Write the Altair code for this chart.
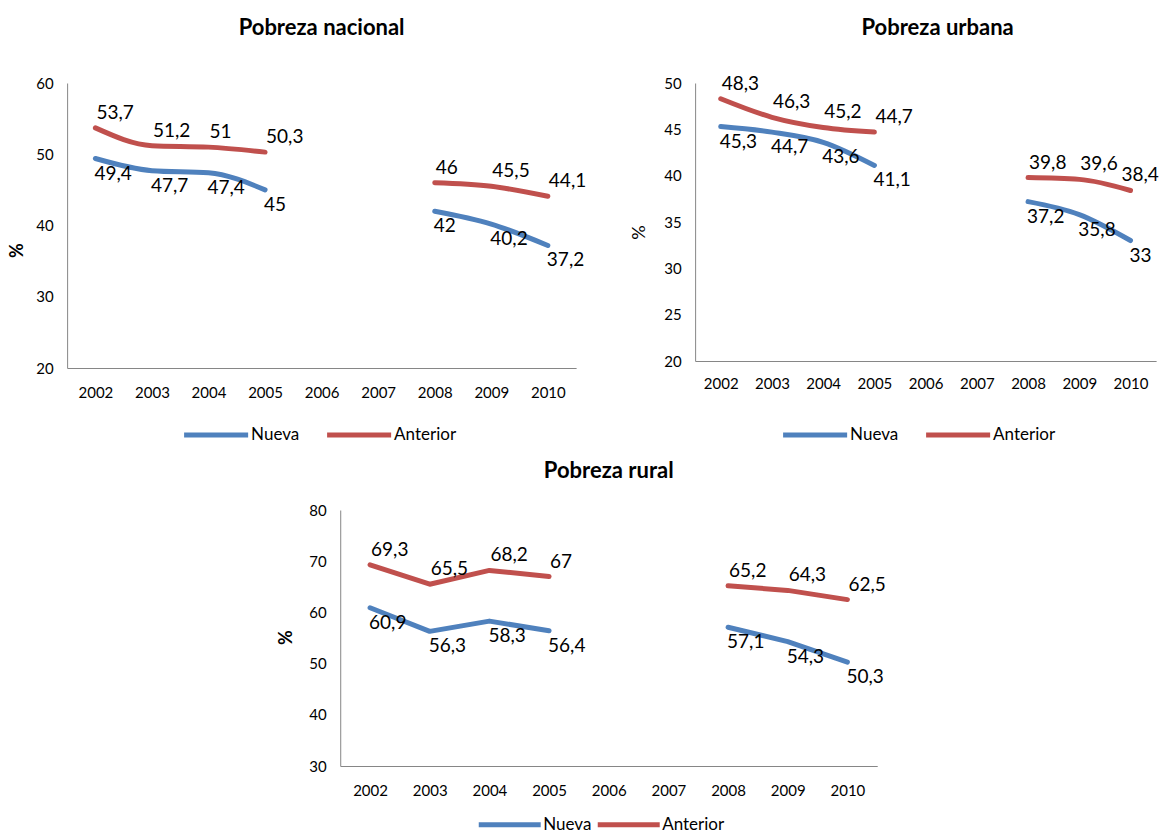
import altair as alt
import pandas as pd

# Years on the category axis (2006 and 2007 have no survey data)
anios = ["2002", "2003", "2004", "2005", "2006", "2007", "2008", "2009", "2010"]
series = ["Nueva", "Anterior"]
colores = ["#4F81BD", "#C0504D"]

# Poverty rates (%) by methodology
nacional_nueva = [49.4, 47.7, 47.4, 45, None, None, 42, 40.2, 37.2]
nacional_anterior = [53.7, 51.2, 51, 50.3, None, None, 46, 45.5, 44.1]
urbana_nueva = [45.3, 44.7, 43.6, 41.1, None, None, 37.2, 35.8, 33]
urbana_anterior = [48.3, 46.3, 45.2, 44.7, None, None, 39.8, 39.6, 38.4]
rural_nueva = [60.9, 56.3, 58.3, 56.4, None, None, 57.1, 54.3, 50.3]
rural_anterior = [69.3, 65.5, 68.2, 67, None, None, 65.2, 64.3, 62.5]

F_TICK = 15
F_DATO = 19
F_LEYENDA = 17
F_TITULO = 22


def tabla(nueva, anterior):
    """Long table; missing years split each series into separate segments."""
    filas = []
    for serie, valores in (("Nueva", nueva), ("Anterior", anterior)):
        tramo = 0
        for anio, v in zip(anios, valores):
            if v is None:
                tramo += 1
                continue
            filas.append({
                "anio": anio,
                "serie": serie,
                "valor": v,
                "tramo": f"{serie}-{tramo}",
                "etiqueta": f"{v:g}".replace(".", ","),
            })
    return pd.DataFrame(filas)


def panel(titulo, df, ymin, ymax, paso, ancho, alto, interp, ytitulo_negrita,
          ytx, yty, xpad, lx, ly, simbolo, colpad, toff, tdx, dx_final=1):
    x = alt.X(
        "anio:O",
        scale=alt.Scale(domain=anios, padding=0.5),
        axis=alt.Axis(title=None, labelAngle=0, ticks=False, domainColor="#868686",
                      labelPadding=xpad, labelFontSize=F_TICK, labelColor="black"),
    )
    y = alt.Y(
        "valor:Q",
        scale=alt.Scale(domain=[ymin, ymax], nice=False, zero=False),
        axis=alt.Axis(values=list(range(ymin, ymax + 1, paso)), grid=False, ticks=False,
                      domainColor="#868686", labelPadding=14, labelFontSize=F_TICK,
                      labelColor="black", title="%", titleFontSize=18,
                      titleFontWeight="bold" if ytitulo_negrita else "normal",
                      titleColor="black", titleX=ytx, titleY=yty,
                      titleAlign="center", titleBaseline="middle"),
    )
    color = alt.Color(
        "serie:N",
        scale=alt.Scale(domain=series, range=colores),
        legend=alt.Legend(title=None, orient="none", legendX=lx, legendY=ly,
                          direction="horizontal", symbolType="stroke",
                          symbolSize=simbolo, symbolStrokeWidth=5,
                          labelFontSize=F_LEYENDA, labelColor="black", labelOffset=0,
                          columnPadding=colpad, padding=0),
    )
    base = alt.Chart(df)
    lineas = base.mark_line(strokeWidth=5, strokeCap="round", strokeJoin="round",
                            interpolate=interp).encode(x=x, y=y, color=color,
                                                       detail="tramo:N")
    et_nueva = base.transform_filter(alt.datum.serie == "Nueva").mark_text(
        align="left", baseline="middle", dx=-1, dy=15, fontSize=F_DATO, color="black"
    ).encode(x=x, y=y, text="etiqueta:N")
    ultimo = anios[-1]
    et_anterior = base.transform_filter(
        (alt.datum.serie == "Anterior") & (alt.datum.anio != ultimo)
    ).mark_text(
        align="left", baseline="middle", dx=1, dy=-15, fontSize=F_DATO, color="black"
    ).encode(x=x, y=y, text="etiqueta:N")
    # the last label is nudged so that it stays inside the page edge
    et_final = base.transform_filter(
        (alt.datum.serie == "Anterior") & (alt.datum.anio == ultimo)
    ).mark_text(
        align="left", baseline="middle", dx=dx_final, dy=-15, fontSize=F_DATO, color="black"
    ).encode(x=x, y=y, text="etiqueta:N")
    return alt.layer(lineas, et_nueva, et_anterior, et_final).properties(
        width=ancho, height=alto,
        title=alt.Title(titulo, fontSize=F_TITULO, fontWeight="bold", color="black",
                        anchor="middle", offset=toff, dx=tdx),
    )


nacional = panel("Pobreza nacional", tabla(nacional_nueva, nacional_anterior),
                 20, 60, 10, 509, 285, "monotone", True, -50, 167, 17,
                 114, 317, 4100, 16, 36, 0)
urbana = panel("Pobreza urbana", tabla(urbana_nueva, urbana_anterior),
               20, 50, 5, 461, 278, "monotone", False, -56, 149, 15,
               85, 317, 4100, 16, 35, 12, dx_final=-9)
rural = panel("Pobreza rural", tabla(rural_nueva, rural_anterior),
              30, 80, 10, 537, 256, "linear", True, -54, 127, 17,
              136, 281, 3840, -5, 20, 0)

fila = alt.hconcat(nacional, urbana, spacing=119, bounds="flush").resolve_legend(
    color="independent")
chart = alt.vconcat(fila, rural, spacing=15, center=True).resolve_legend(
    color="independent"
).properties(
    autosize="none",
    padding={"left": 67, "top": 83, "right": 1094, "bottom": 750},
    background="white",
).configure(font="Lato").configure_view(stroke=None)

chart.save("out.html", embed_options={"renderer": "svg", "actions": False})
